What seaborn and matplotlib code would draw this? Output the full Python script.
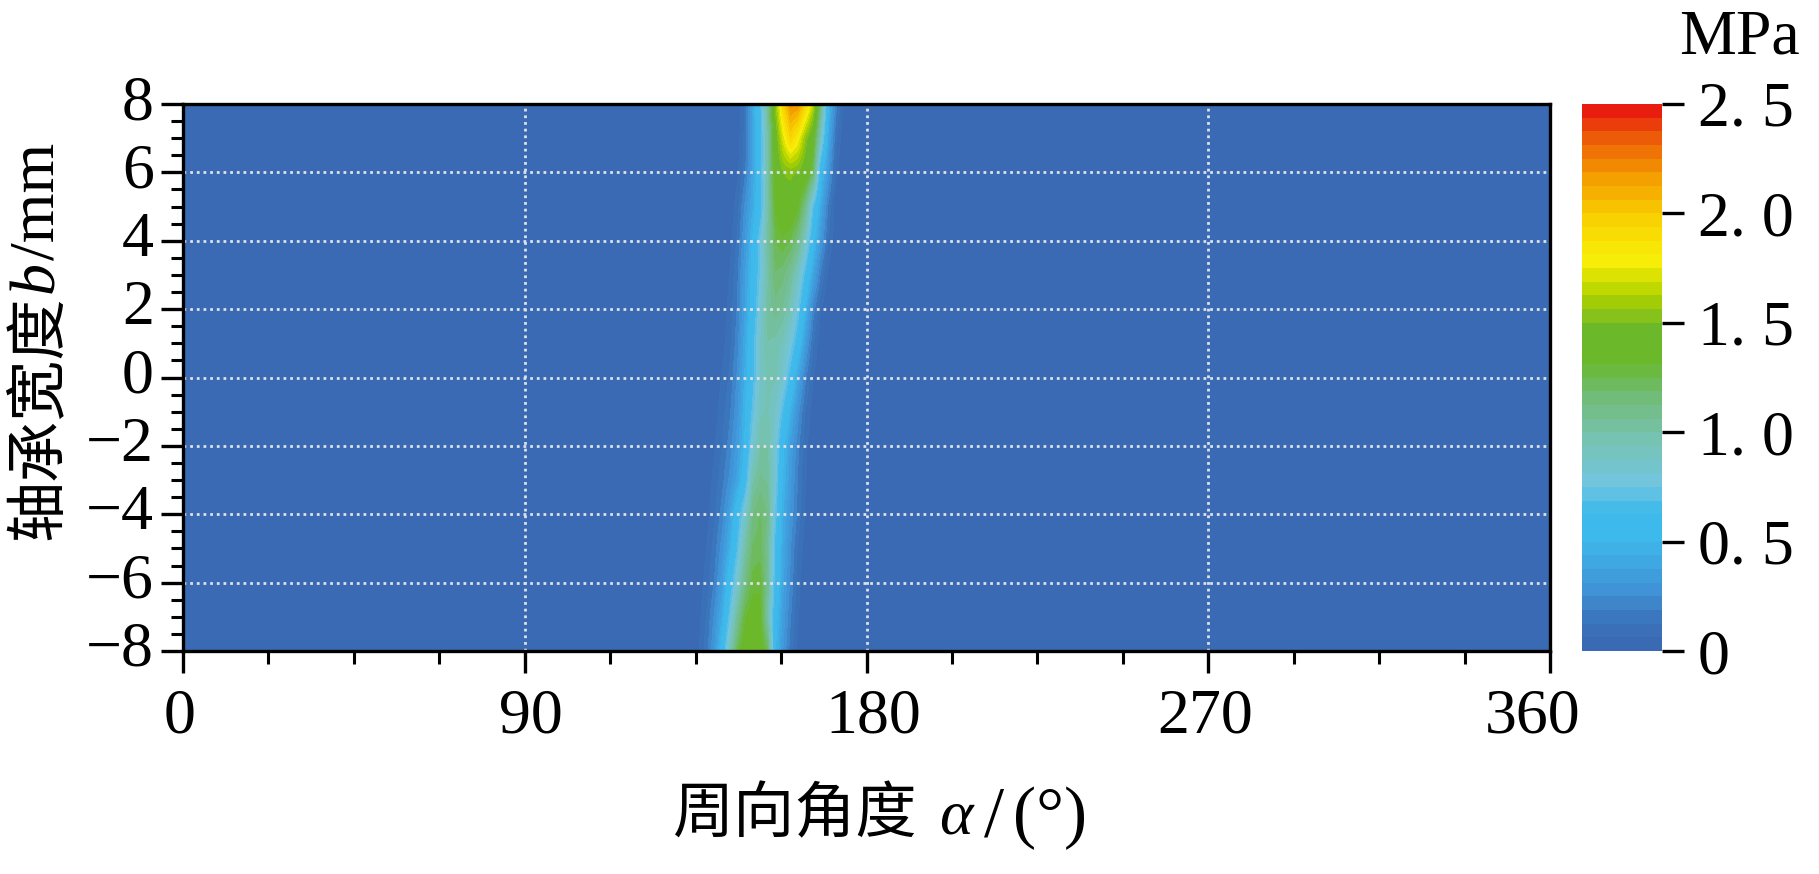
import numpy as np
import pandas as pd
import matplotlib
matplotlib.use("Agg")
import matplotlib.pyplot as plt
from matplotlib.colors import LinearSegmentedColormap, Normalize
from matplotlib.transforms import ScaledTranslation
import seaborn as sns

W, H = 1819, 874
SERIF = "Liberation Serif"
CJK = "Noto Sans CJK SC"

# ---- data (MPa) ----
band_angles = [136, 138, 140, 142, 144, 146, 148, 150, 152, 154, 156,
               158, 160, 162, 164, 166, 168, 170, 172, 174, 176]
width_b = [8, 7, 6, 5, 4, 3, 2, 1, 0, -1, -2, -3, -4, -5, -6, -7, -8]
p8 = [0, 0, 0, 0, 0, .02, .14, .42, .68, 1.05, 1.55, 1.95, 2.22, 2.2, 1.95, 1.65, 1.15, .52, .22, .05, 0]
p7 = [0, 0, 0, 0, 0, .03, .15, .38, .62, 1.0, 1.42, 1.72, 1.95, 1.8, 1.55, 1.38, .9, .42, .14, .02, 0]
p6 = [0, 0, 0, 0, 0, .05, .18, .4, .64, 1.0, 1.4, 1.5, 1.52, 1.5, 1.42, 1.22, .55, .32, .08, 0, 0]
p5 = [0, 0, 0, 0, .02, .1, .27, .43, .62, 1.0, 1.33, 1.46, 1.44, 1.33, 1.1, .7, .42, .18, .03, 0, 0]
p4 = [0, 0, 0, 0, .04, .14, .32, .52, .76, 1.02, 1.25, 1.3, 1.25, 1.12, .88, .55, .32, .12, .02, 0, 0]
p3 = [0, 0, 0, .01, .07, .18, .37, .55, .76, 1.0, 1.18, 1.15, 1.05, .9, .65, .4, .18, .05, 0, 0, 0]
p2 = [0, 0, 0, .02, .09, .2, .38, .58, .82, 1.02, 1.1, 1.05, .95, .75, .48, .22, .07, 0, 0, 0, 0]
p1 = [0, 0, .01, .04, .11, .23, .42, .64, .88, 1.0, .98, .92, .8, .6, .34, .13, .02, 0, 0, 0, 0]
z0 = [0, 0, .02, .07, .14, .27, .46, .65, .88, .95, .95, .85, .64, .4, .2, .07, 0, 0, 0, 0, 0]
n1 = [0, .01, .04, .1, .18, .3, .5, .72, .92, .95, .88, .68, .47, .28, .12, .03, 0, 0, 0, 0, 0]
n2 = [0, .01, .06, .13, .22, .35, .52, .82, 1.0, 1.0, .82, .54, .36, .21, .08, .01, 0, 0, 0, 0, 0]
n3 = [0, .02, .09, .17, .27, .4, .6, .98, 1.08, 1.05, .8, .5, .33, .18, .07, 0, 0, 0, 0, 0, 0]
n4 = [0, .04, .12, .22, .38, .6, .85, 1.12, 1.2, 1.12, .74, .45, .3, .17, .05, 0, 0, 0, 0, 0, 0]
n5 = [.01, .07, .16, .29, .46, .7, 1.0, 1.2, 1.22, 1.08, .66, .42, .26, .12, .03, 0, 0, 0, 0, 0, 0]
n6 = [.03, .1, .2, .36, .6, .85, 1.12, 1.28, 1.3, 1.08, .64, .4, .24, .09, .01, 0, 0, 0, 0, 0, 0]
n7 = [.05, .14, .27, .45, .74, 1.05, 1.3, 1.38, 1.34, 1.0, .56, .36, .2, .07, 0, 0, 0, 0, 0, 0, 0]
n8 = [.07, .17, .33, .57, .93, 1.25, 1.42, 1.45, 1.4, 1.22, .52, .32, .16, .05, 0, 0, 0, 0, 0, 0, 0]
band_rows = [p8, p7, p6, p5, p4, p3, p2, p1, z0, n1, n2, n3, n4, n5, n6, n7, n8]

x_ticks = [0, 90, 180, 270, 360]
y_ticks = [8, 6, 4, 2, 0, -2, -4, -6, -8]
c_ticks = [0, 0.5, 1.0, 1.5, 2.0, 2.5]
c_labels = ["0", "0. 5", "1. 0", "1. 5", "2. 0", "2. 5"]

# Full surface: everything outside the band sits at zero pressure
all_angles = list(range(0, 362, 2))
df = pd.DataFrame(0.0, index=width_b, columns=all_angles)
df.loc[:, band_angles] = np.array(band_rows)

cmap = LinearSegmentedColormap.from_list("pressure", [
    (0.00, "#3a6ab4"), (0.05, "#3b76bd"), (0.10, "#4192d6"), (0.20, "#3eb9ec"),
    (0.25, "#3eb9ec"), (0.30, "#72c5df"), (0.38, "#77c3b5"), (0.45, "#72bd82"),
    (0.48, "#6fbb68"), (0.53, "#6bb82b"), (0.59, "#6bb82b"), (0.65, "#aad000"),
    (0.68, "#d0de00"), (0.72, "#f8ef0a"), (0.80, "#f9d000"), (0.88, "#f39a00"),
    (0.95, "#ec5a08"), (1.00, "#e91c10"),
], N=40)
norm = Normalize(0, 2.5)


def fig_box(left, top, right, bottom):
    return [left / W, 1 - bottom / H, (right - left) / W, (bottom - top) / H]


sns.set_theme(style="white")
plt.rcParams["font.family"] = [SERIF, CJK]
plt.rcParams["axes.unicode_minus"] = False

fig = plt.figure(figsize=(W / 100, H / 100), dpi=100)
ax = fig.add_axes(fig_box(183, 104, 1550, 651))
cax = fig.add_axes(fig_box(1582, 104, 1662, 651))

sns.heatmap(df, ax=ax, cmap=cmap, norm=norm, cbar=True, cbar_ax=cax,
            xticklabels=False, yticklabels=False,
            cbar_kws={"ticks": c_ticks})

# smooth display of the same table, on the heatmap's own cell coordinates
ax.imshow(df.values, cmap=cmap, norm=norm, aspect="auto",
          interpolation="bilinear", interpolation_stage="data",
          extent=(0, len(all_angles), len(width_b), 0), zorder=2)


def xpos(a):
    return a / 2 + 0.5


def ypos(b):
    return 8.5 - b


ax.set_xlim(xpos(0), xpos(360))
ax.set_ylim(ypos(-8), ypos(8))

for a in x_ticks[1:-1]:
    ax.axvline(xpos(a), color="#dde1e8", lw=2.0, ls=(0, (1, 1.4)), zorder=3)
for b in y_ticks[1:-1]:
    ax.axhline(ypos(b), color="#dde1e8", lw=2.0, ls=(0, (1, 1.4)), zorder=3)

for s in ax.spines.values():
    s.set_visible(True)
    s.set_linewidth(2.4)
    s.set_color("black")
    s.set_zorder(5)

ax.set_xticks([xpos(a) for a in x_ticks])
ax.set_xticklabels([str(a) for a in x_ticks], fontsize=46, family=[SERIF, CJK], rotation=0)
ax.set_xticks([xpos(a) for a in np.arange(0, 361, 22.5) if a % 90 != 0], minor=True)
ax.set_yticks([ypos(b) for b in y_ticks])
ax.set_yticklabels([str(b).replace("-", "\u2212") for b in y_ticks], fontsize=46,
                   family=[SERIF, CJK], rotation=0, va="center")
ax.set_yticks([ypos(b) for b in np.arange(-8, 8.01, 0.5) if b % 2 != 0], minor=True)
ax.tick_params(axis="both", which="major", length=16, width=2.4, color="black",
               left=True, bottom=True, labelcolor="black")
ax.tick_params(axis="both", which="minor", length=9, width=2.2, color="black",
               left=True, bottom=True)
ax.tick_params(axis="x", which="major", pad=11)
ax.tick_params(axis="y", which="major", pad=5)

# the x tick labels sit a little off their ticks in the reference
for lab, dx in zip(ax.get_xticklabels(), [-3, 6, 7, -3, -17]):
    lab.set_transform(lab.get_transform() +
                      ScaledTranslation(dx / 100, 0, fig.dpi_scale_trans))

cbar = ax.collections[0].colorbar
cbar.outline.set_visible(False)
cbar.set_ticks(c_ticks)
cbar.set_ticklabels(c_labels, fontsize=46, family=[SERIF, CJK])
cbar.ax.tick_params(axis="y", length=16, width=2.4, color="black", right=True, pad=10,
                    labelcolor="black")
cbar.ax.minorticks_off()


def put(px, py, s, **kw):
    kw.setdefault("color", "black")
    kw.setdefault("va", "center")
    fig.text(px / W, 1 - py / H, s, **kw)


# title of the colour scale
put(1739, 38, "MPa", fontsize=46, family=SERIF, ha="center")

# x label in runs: Chinese, italic symbol, slash, unit
put(673, 815, "周向角度", fontsize=44, family=CJK, ha="left")
put(939, 818, "\u03b1", fontsize=46, family=SERIF, style="italic", ha="left")
put(984, 818, "/", fontsize=52, family=SERIF, ha="left")
put(1013, 818, "(°)", fontsize=50, family=SERIF, ha="left")

# y label, rotated, same runs reading upwards
put(38, 540, "轴承宽度", fontsize=44, family=CJK, rotation=90, ha="center", va="bottom")
put(38, 293, "b", fontsize=46, family=SERIF, style="italic", rotation=90, ha="center", va="bottom")
put(38, 260, "/mm", fontsize=46, family=SERIF, rotation=90, ha="center", va="bottom")

fig.savefig("out.png", dpi=100, facecolor="white")
